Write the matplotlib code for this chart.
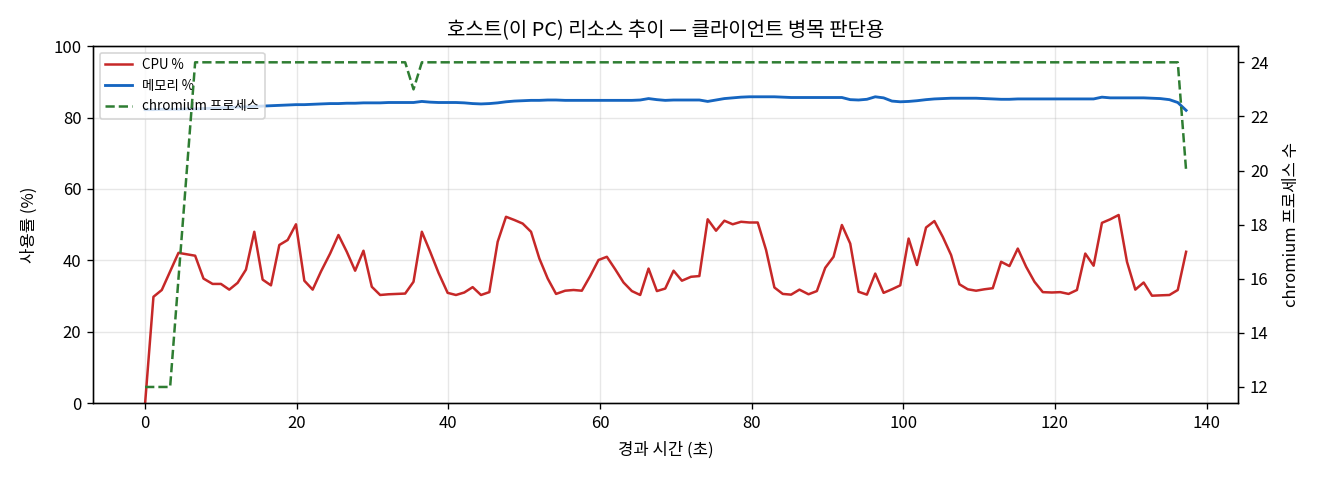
import matplotlib
matplotlib.use("Agg")
import matplotlib.pyplot as plt

plt.rcParams['font.family'] = ['Noto Sans CJK KR', 'DejaVu Sans']
plt.rcParams['axes.unicode_minus'] = False

# elapsed seconds for each sample
elapsed = [
    0.0, 1.1, 2.2, 3.3, 4.4, 5.5, 6.6, 7.7, 8.9, 10.0,
    11.1, 12.2, 13.3, 14.4, 15.5, 16.6, 17.7, 18.8, 19.9, 21.0,
    22.1, 23.2, 24.4, 25.5, 26.6, 27.7, 28.8, 29.9, 31.0, 32.1,
    33.2, 34.3, 35.4, 36.5, 37.6, 38.7, 39.9, 41.0, 42.1, 43.2,
    44.3, 45.4, 46.5, 47.6, 48.7, 49.8, 50.9, 52.0, 53.1, 54.2,
    55.4, 56.5, 57.6, 58.7, 59.8, 60.9, 62.0, 63.1, 64.2, 65.3,
    66.4, 67.5, 68.6, 69.7, 70.8, 72.0, 73.1, 74.2, 75.3, 76.4,
    77.5, 78.6, 79.7, 80.8, 81.9, 83.0, 84.1, 85.2, 86.3, 87.5,
    88.6, 89.7, 90.8, 91.9, 93.0, 94.1, 95.2, 96.3, 97.4, 98.5,
    99.6, 100.7, 101.8, 103.0, 104.1, 105.2, 106.3, 107.4, 108.5, 109.6,
    110.7, 111.8, 112.9, 114.0, 115.1, 116.2, 117.3, 118.4, 119.6, 120.7,
    121.8, 122.9, 124.0, 125.1, 126.2, 127.3, 128.4, 129.5, 130.6, 131.7,
    132.8, 133.9, 135.1, 136.2, 137.3,
]

cpu_pct = [
    0.0, 29.8, 31.7, 36.9, 42.1, 41.7, 41.3, 34.9, 33.4, 33.4,
    31.8, 33.7, 37.4, 48.0, 34.6, 33.0, 44.3, 45.7, 50.1, 34.3,
    31.8, 36.9, 41.9, 47.1, 42.4, 37.1, 42.7, 32.6, 30.3, 30.5,
    30.6, 30.7, 34.0, 48.0, 42.4, 36.5, 30.9, 30.3, 31.0, 32.5,
    30.3, 31.1, 45.2, 52.2, 51.3, 50.3, 48.0, 40.5, 34.9, 30.6,
    31.5, 31.7, 31.5, 35.6, 40.1, 41.0, 37.5, 33.8, 31.4, 30.3,
    37.7, 31.4, 32.1, 37.1, 34.3, 35.4, 35.6, 51.5, 48.3, 51.1,
    50.1, 50.8, 50.6, 50.6, 42.9, 32.4, 30.6, 30.4, 31.8, 30.5,
    31.4, 37.9, 41.0, 49.9, 44.7, 31.2, 30.4, 36.3, 30.9, 31.9,
    33.0, 46.1, 38.7, 49.2, 51.0, 46.6, 41.5, 33.3, 31.9, 31.5,
    31.9, 32.2, 39.6, 38.4, 43.3, 38.2, 34.0, 31.1, 31.0, 31.1,
    30.6, 31.7, 41.9, 38.5, 50.5, 51.5, 52.7, 39.6, 31.8, 33.8,
    30.1, 30.2, 30.3, 31.7, 42.4,
]

mem_pct = [
    82.2, 82.2, 82.3, 82.3, 82.3, 82.4, 82.4, 82.5, 82.6, 82.7,
    82.8, 82.9, 83.0, 83.1, 83.2, 83.3, 83.4, 83.5, 83.6, 83.6,
    83.7, 83.8, 83.9, 83.9, 84.0, 84.0, 84.1, 84.1, 84.1, 84.2,
    84.2, 84.2, 84.2, 84.5, 84.3, 84.2, 84.2, 84.2, 84.1, 83.9,
    83.8, 83.9, 84.1, 84.4, 84.6, 84.7, 84.8, 84.8, 84.9, 84.9,
    84.8, 84.8, 84.8, 84.8, 84.8, 84.8, 84.8, 84.8, 84.8, 84.9,
    85.3, 85.0, 84.8, 84.9, 84.9, 84.9, 84.9, 84.5, 84.9, 85.3,
    85.5, 85.7, 85.8, 85.8, 85.8, 85.8, 85.7, 85.6, 85.6, 85.6,
    85.6, 85.6, 85.6, 85.6, 85.0, 84.9, 85.1, 85.8, 85.5, 84.6,
    84.4, 84.5, 84.7, 85.0, 85.2, 85.3, 85.4, 85.4, 85.4, 85.4,
    85.3, 85.2, 85.1, 85.1, 85.2, 85.2, 85.2, 85.2, 85.2, 85.2,
    85.2, 85.2, 85.2, 85.2, 85.7, 85.5, 85.5, 85.5, 85.5, 85.5,
    85.4, 85.3, 85.0, 84.2, 82.0,
]

chromium_procs = [
    12, 12, 12, 12, 16, 20, 24, 24, 24, 24,
    24, 24, 24, 24, 24, 24, 24, 24, 24, 24,
    24, 24, 24, 24, 24, 24, 24, 24, 24, 24,
    24, 24, 23, 24, 24, 24, 24, 24, 24, 24,
    24, 24, 24, 24, 24, 24, 24, 24, 24, 24,
    24, 24, 24, 24, 24, 24, 24, 24, 24, 24,
    24, 24, 24, 24, 24, 24, 24, 24, 24, 24,
    24, 24, 24, 24, 24, 24, 24, 24, 24, 24,
    24, 24, 24, 24, 24, 24, 24, 24, 24, 24,
    24, 24, 24, 24, 24, 24, 24, 24, 24, 24,
    24, 24, 24, 24, 24, 24, 24, 24, 24, 24,
    24, 24, 24, 24, 24, 24, 24, 24, 24, 24,
    24, 24, 24, 24, 20,
]

fig, ax = plt.subplots(figsize=(11, 4), dpi=120)

l1, = ax.plot(elapsed, cpu_pct, color="#c62828", linewidth=1.5, label="CPU %")
l2, = ax.plot(elapsed, mem_pct, color="#1565c0", linewidth=1.7, label="메모리 %")
ax.set_ylim(0, 100)
ax.set_xlabel("경과 시간 (초)", labelpad=6)
ax.set_ylabel("사용률 (%)", labelpad=9)
ax.grid(alpha=0.3)

ax2 = ax.twinx()
l3, = ax2.plot(elapsed, chromium_procs, color="#2e7d32", linewidth=1.5,
               linestyle="--", label="chromium 프로세스")
ax2.set_ylabel("chromium 프로세스 수", labelpad=9)

ax.legend(handles=[l1, l2, l3], loc="upper left", fontsize=8)
ax.set_title("호스트(이 PC) 리소스 추이 — 클라이언트 병목 판단용")

fig.subplots_adjust(left=0.0705, right=0.938, top=0.904, bottom=0.160)
fig.savefig("out.png")
